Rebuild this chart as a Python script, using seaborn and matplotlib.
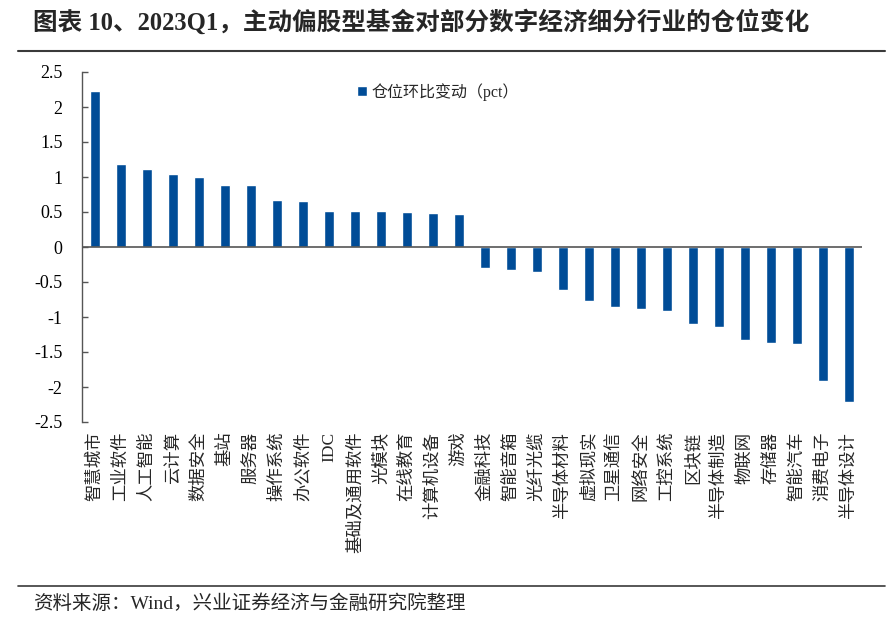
import matplotlib
matplotlib.use("Agg")
import matplotlib.pyplot as plt
import seaborn as sns
import pandas as pd
from matplotlib.lines import Line2D
from matplotlib.ticker import MultipleLocator, FuncFormatter

categories = ["智慧城市", "工业软件", "人工智能", "云计算", "数据安全", "基站", "服务器",
              "操作系统", "办公软件", "IDC", "基础及通用软件", "光模块", "在线教育",
              "计算机设备", "游戏", "金融科技", "智能音箱", "光纤光缆", "半导体材料",
              "虚拟现实", "卫星通信", "网络安全", "工控系统", "区块链", "半导体制造",
              "物联网", "存储器", "智能汽车", "消费电子", "半导体设计"]
values = [2.23, 1.19, 1.12, 1.05, 1.00, 0.89, 0.89, 0.67, 0.66, 0.51, 0.51, 0.51,
          0.50, 0.48, 0.47, -0.30, -0.33, -0.35, -0.61, -0.77, -0.86, -0.89, -0.92,
          -1.10, -1.14, -1.33, -1.37, -1.39, -1.92, -2.21]
series_name = "仓位环比变动（pct）"
title = "图表 10、2023Q1，主动偏股型基金对部分数字经济细分行业的仓位变化"
source = "资料来源：Wind，兴业证券经济与金融研究院整理"

sns.set_theme(style="white")
plt.rcParams["font.family"] = ["Liberation Serif", "Noto Sans CJK SC"]
plt.rcParams["axes.unicode_minus"] = False

W, H = 889, 625
fig = plt.figure(figsize=(W / 100, H / 100), dpi=100)
ax = fig.add_axes([82 / W, 1 - 422 / H, (862 - 82) / W, (422 - 72) / H])

df = pd.DataFrame({"cat": categories, "val": values})
sns.barplot(data=df, x="cat", y="val", color="#004C97", width=0.41, ax=ax,
            label=series_name, saturation=1)

ax.set_xlim(-0.5, len(categories) - 0.5)
ax.set_ylim(-2.5, 2.5)
ax.yaxis.set_major_locator(MultipleLocator(0.5))
ax.yaxis.set_major_formatter(FuncFormatter(lambda v, p: f"{v:g}"))
ax.set_xlabel("")
ax.set_ylabel("")
for s in ["top", "right", "bottom"]:
    ax.spines[s].set_visible(False)
ax.spines["left"].set_color("#555555")
ax.spines["left"].set_linewidth(1.0)
ax.axhline(0, color="#555555", lw=1.2, zorder=3)
ax.tick_params(axis="y", direction="in", length=4, width=1, color="#555555",
               labelsize=13, pad=14, left=True)
ax.tick_params(axis="x", length=0, labelsize=12.5, pad=7)
plt.setp(ax.get_xticklabels(), rotation=90, va="top", ha="center")
for t in ax.get_yticklabels():
    t.set_color("black")

leg = ax.legend(loc="upper left", bbox_to_anchor=(357 / W, 1 - 83 / H),
                bbox_transform=fig.transFigure, frameon=False, fontsize=11.5,
                handlelength=0.6, handleheight=0.6, handletextpad=0.3,
                borderaxespad=0, borderpad=0)

fig.text(33 / W, 1 - 22 / H, title, fontsize=17.7, fontweight="bold",
         va="center", ha="left")
fig.add_artist(Line2D([18 / W, 885 / W], [1 - 50.5 / H] * 2, color="#3a3a3a", lw=1.5))
fig.add_artist(Line2D([18 / W, 885 / W], [1 - 586 / H] * 2, color="#3a3a3a", lw=1.2))
fig.text(33 / W, 1 - 604 / H, source, fontsize=14, va="center", ha="left")

fig.savefig("out.png", dpi=100, facecolor="white")
